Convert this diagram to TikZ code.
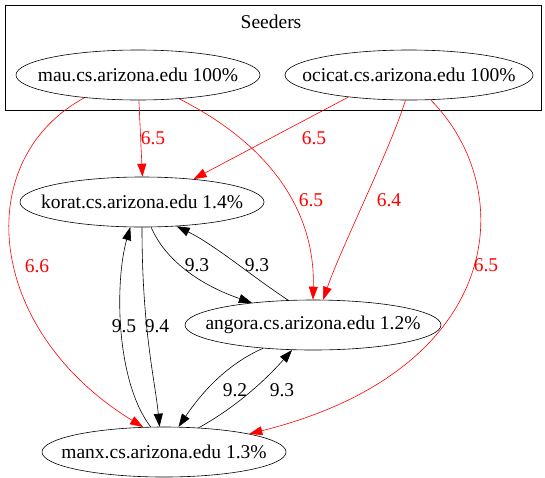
\documentclass[tikz,border=0pt]{standalone}
\usepackage{fontspec}
\setmainfont{Liberation Serif}
\usetikzlibrary{arrows.meta,shapes.geometric}
\begin{document}
\begin{tikzpicture}[x=1pt,y=-1pt,
  txt/.style={font=\fontsize{19.5}{22}\selectfont, inner sep=0pt},
  host/.style={draw, ellipse, inner sep=0pt, minimum height=50pt, line width=0.6pt},
  lbl/.style={txt},
  rlbl/.style={txt, text=red},
  edge/.style={line width=0.6pt, -{Triangle[length=13pt,width=9pt]}},
  redge/.style={edge, draw=red}]
\useasboundingbox (0,0) rectangle (545,477);
\draw[line width=0.8pt] (5,5) rectangle (541,110);
\node[lbl] (seeders) at (271,22) {Seeders};
\node[host, minimum width=244pt, label={[txt]center:mau.cs.arizona.edu 100\%}] (mau) at (138,75) {};
\node[host, minimum width=248pt, label={[txt]center:ocicat.cs.arizona.edu 100\%}] (ocicat) at (409,75) {};
\node[host, minimum width=244pt, label={[txt]center:korat.cs.arizona.edu 1.4\%}] (korat) at (142,202) {};
\node[host, minimum width=256pt, label={[txt]center:angora.cs.arizona.edu 1.2\%}] (angora) at (313,325) {};
\node[host, minimum width=244pt, label={[txt]center:manx.cs.arizona.edu 1.3\%}] (manx) at (164,452) {};

% red edges from seeders
\draw[redge] (mau.272) -- (korat.89);
\draw[redge] (mau.203) .. controls (-30,160) and (-15,330) .. (manx.130);
\draw[redge] (mau.330) .. controls (280,150) and (315,220) .. (angora.90);
\draw[redge] (ocicat.200) -- (korat.24);
\draw[redge] (ocicat.262) .. controls (390,150) and (340,250) .. (angora.68);
\draw[redge] (ocicat.311) .. controls (520,190) and (505,370) .. (manx.12);

% black edges
\draw[edge] (korat.290) .. controls (165,260) and (200,285) .. (angora.160);
\draw[edge] (angora.135) .. controls (250,275) and (215,245) .. (korat.325);
\draw[edge] (korat.270) .. controls (142,330) and (155,380) .. (manx.100);
\draw[edge] (manx.118) .. controls (115,380) and (115,280) .. (korat.245);
\draw[edge] (angora.205) .. controls (225,365) and (200,395) .. (manx.60);
\draw[edge] (manx.35) .. controls (240,405) and (270,375) .. (angora.230);

% labels
\node[rlbl] (l1) at (153,138) {6.5};
\node[rlbl] (l2) at (314,138) {6.5};
\node[rlbl] (l3) at (37,266) {6.6};
\node[rlbl] (l4) at (311,200) {6.5};
\node[rlbl] (l5) at (389,200) {6.4};
\node[rlbl] (l6) at (486,265) {6.5};
\node[lbl] (l7) at (197,265) {9.3};
\node[lbl] (l8) at (257,265) {9.3};
\node[lbl] (l9) at (124,326) {9.5};
\node[lbl] (l10) at (157,326) {9.4};
\node[lbl] (l11) at (235,390) {9.2};
\node[lbl] (l12) at (282,390) {9.3};
\end{tikzpicture}
\end{document}
